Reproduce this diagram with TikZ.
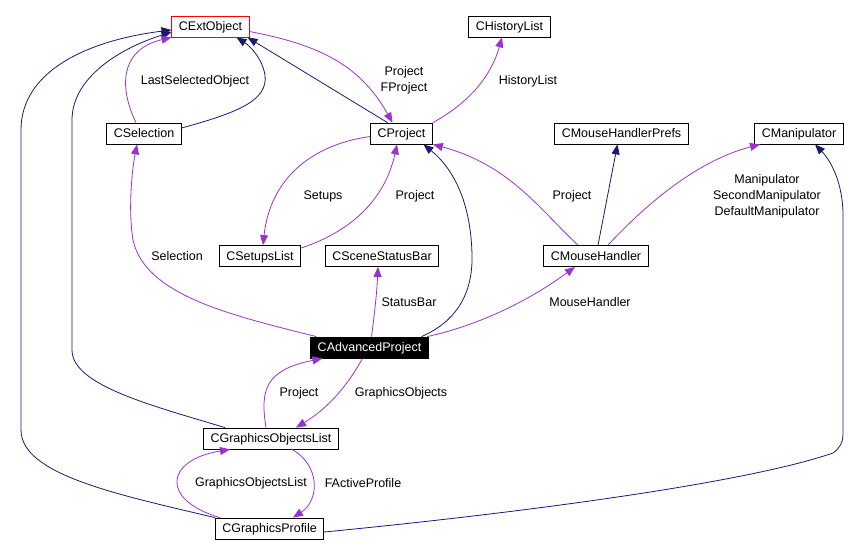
\documentclass[tikz,border=0pt]{standalone}
\usepackage{fontspec}
\setmainfont{Liberation Sans}
\usetikzlibrary{arrows.meta}
\definecolor{inhblue}{RGB}{25,25,112}
\definecolor{usepurple}{RGB}{154,50,205}

\begin{document}
\begin{tikzpicture}[x=1pt,y=-1pt,
    font=\fontsize{12.5}{16}\selectfont,
    cls/.style={draw=black,line width=0.8pt,fill=white,inner xsep=7pt,inner ysep=0pt,
                minimum height=21pt,text height=9pt,text depth=1pt},
    inherit/.style={draw=inhblue,line width=0.8pt,-{Triangle[length=10pt,width=8pt]}},
    usage/.style={draw=usepurple,line width=0.8pt,-{Triangle[length=10pt,width=8pt]}},
    lbl/.style={align=center,inner sep=0pt}]
    \useasboundingbox (0,0) rectangle (861,556);

    % classes
    \node[cls,draw=red] (ExtObj) at (210.5,26.5) {CExtObject};
    \node[cls] (HistList) at (509.5,26.5) {CHistoryList};
    \node[cls] (Sel) at (144,133.5) {CSelection};
    \node[cls] (Proj) at (401.5,133.5) {CProject};
    \node[cls] (MHPrefs) at (621.5,133.5) {CMouseHandlerPrefs};
    \node[cls] (Manip) at (799,133.5) {CManipulator};
    \node[cls] (SetupsL) at (260,256) {CSetupsList};
    \node[cls] (StatusB) at (382,256) {CSceneStatusBar};
    \node[cls] (MouseH) at (596,256) {CMouseHandler};
    \node[cls,fill=black,text=white] (AdvProj) at (369.5,347.5) {CAdvancedProject};
    \node[cls] (GOList) at (271,438.5) {CGraphicsObjectsList};
    \node[cls] (GProfile) at (269.5,528.5) {CGraphicsProfile};

    % inheritance
    \draw[inherit] ([yshift=5.5pt]Sel.east) .. controls (240,112) and (268,100) .. (265,75)
        .. controls (262,58) and (250,46) .. ([xshift=26pt]ExtObj.south);
    \draw[inherit] ([xshift=-14pt]Proj.north) -- ([xshift=37pt]ExtObj.south);
    \draw[inherit] ([xshift=-46pt]GOList.north) .. controls (150,405) and (72,385) .. (72,350)
        -- (72,120) .. controls (72,80) and (115,50) .. ([yshift=-5.5pt]ExtObj.west);
    \draw[inherit] (GProfile.north west) .. controls (120,495) and (21,475) .. (21,430)
        -- (21,130) .. controls (21,70) and (90,40) .. ([yshift=-3.5pt]ExtObj.west);
    \draw[inherit] ([xshift=52pt]AdvProj.north) .. controls (455,322) and (473,295) .. (472,255)
        .. controls (471,205) and (455,170) .. ([xshift=22pt]Proj.south);
    \draw[inherit] ([xshift=2pt]MouseH.north) -- ([xshift=-4pt]MHPrefs.south);
    \draw[inherit] ([yshift=-3.5pt]GProfile.east) .. controls (500,515) and (740,485) .. (833,453)
        .. controls (840,448) and (843,442) .. (843,435) -- (843,215)
        .. controls (843,185) and (832,162) .. ([xshift=16pt]Manip.south);

    % usage
    \draw[usage] ([xshift=-8pt]Sel.north) .. controls (120,90) and (118,50) .. (ExtObj.south west);
    \draw[usage] ([yshift=-5pt]ExtObj.east) .. controls (320,45) and (360,65) .. ([xshift=-9pt]Proj.north);
    \draw[usage] (Proj.north east) .. controls (465,105) and (490,80) .. ([xshift=-7.5pt]HistList.south);
    \draw[usage] ([yshift=-3pt]Proj.west) .. controls (310,145) and (270,180) .. ([xshift=3pt]SetupsL.north);
    \draw[usage] ([yshift=8pt]SetupsL.east) .. controls (350,232) and (385,200) .. ([xshift=-4.5pt]Proj.south);
    \draw[usage] ([xshift=-18pt]MouseH.north) .. controls (540,210) and (510,165) .. (Proj.south east);
    \draw[usage] ([xshift=12pt]MouseH.north) .. controls (650,200) and (700,160) .. ([xshift=-39pt]Manip.south);
    \draw[usage] ([xshift=6pt]AdvProj.north west) .. controls (230,315) and (145,295) .. (133,240)
        .. controls (128,210) and (132,170) .. ([xshift=-7pt]Sel.south);
    \draw[usage] ([xshift=2pt]AdvProj.north) .. controls (375,310) and (377,290) .. ([xshift=-4pt]StatusB.south);
    \draw[usage] ([xshift=-1.5pt]AdvProj.north east) .. controls (480,325) and (530,300) .. ([xshift=-21pt]MouseH.south);
    \draw[usage] ([xshift=-5pt]GOList.north) .. controls (260,390) and (265,370) .. ([xshift=-47pt]AdvProj.south);
    \draw[usage] ([xshift=-7pt]AdvProj.south) .. controls (345,390) and (325,410) .. ([xshift=25pt]GOList.north);
    \draw[usage] ([xshift=-49.5pt]GProfile.north) .. controls (160,500) and (165,460) .. ([xshift=-41pt]GOList.south);
    \draw[usage] ([xshift=21pt]GOList.south) .. controls (320,465) and (320,500) .. ([xshift=23.5pt]GProfile.north);

    % labels
    \node[lbl] (lLastSel) at (195,81) {LastSelectedObject};
    \node[lbl] (lProjF) at (404,80) {Project\\FProject};
    \node[lbl] (lHist) at (528,81) {HistoryList};
    \node[lbl] (lSetups) at (323,196) {Setups};
    \node[lbl] (lSetProj) at (415,196) {Project};
    \node[lbl] (lMouseProj) at (572,196) {Project};
    \node[lbl] (lManip) at (767,196) {Manipulator\\SecondManipulator\\DefaultManipulator};
    \node[lbl] (lSel) at (177,256) {Selection};
    \node[lbl] (lStatus) at (409,302) {StatusBar};
    \node[lbl] (lMouse) at (590,302) {MouseHandler};
    \node[lbl] (lGOProj) at (299,393) {Project};
    \node[lbl] (lGO) at (401,393) {GraphicsObjects};
    \node[lbl] (lGOL) at (251,483) {GraphicsObjectsList};
    \node[lbl] (lActive) at (363,483) {FActiveProfile};
\end{tikzpicture}
\end{document}
